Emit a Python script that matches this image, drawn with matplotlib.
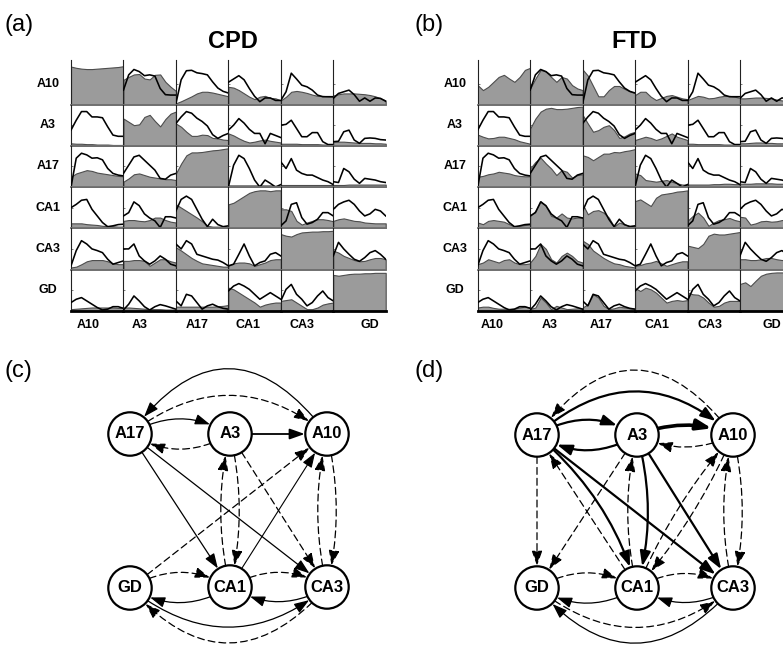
import matplotlib
matplotlib.use('Agg')
import matplotlib.pyplot as plt
from matplotlib.patches import Circle, FancyArrowPatch, ArrowStyle

plt.rcParams['font.family'] = ['Liberation Sans', 'DejaVu Sans']

# ---------------- data ----------------
regions = ['A10', 'A3', 'A17', 'CA1', 'CA3', 'GD']
t = [0.0, 0.1, 0.2, 0.3, 0.4, 0.5, 0.6, 0.7, 0.8, 0.9, 1.0]

# black curves (same in both panels), per row, columns in `regions` order
black_A10 = [None,
             [0.35, 0.72, 0.85, 0.8, 0.7, 0.72, 0.69, 0.39, 0.24, 0.23, 0.23],
             [0.02, 0.6, 0.82, 0.83, 0.77, 0.75, 0.72, 0.55, 0.4, 0.32, 0.28],
             [0.54, 0.62, 0.7, 0.6, 0.39, 0.2, 0.07, 0.16, 0.16, 0.1, 0.1],
             [0.1, 0.31, 0.76, 0.62, 0.47, 0.43, 0.35, 0.23, 0.19, 0.19, 0.19],
             [0.15, 0.27, 0.31, 0.35, 0.24, 0.08, 0.16, 0.08, 0.16, 0.15, 0.08]]
black_A3 = [[0.38, 0.62, 0.83, 0.83, 0.7, 0.7, 0.68, 0.46, 0.26, 0.23, 0.23],
            None,
            [0.54, 0.7, 0.83, 0.79, 0.67, 0.59, 0.48, 0.27, 0.18, 0.25, 0.3],
            [0.38, 0.5, 0.66, 0.55, 0.4, 0.3, 0.3, 0.05, 0.3, 0.25, 0.2],
            [0.5, 0.52, 0.62, 0.42, 0.22, 0.22, 0.32, 0.32, 0.1, 0.03, 0.03],
            [0.1, 0.11, 0.34, 0.38, 0.14, 0.06, 0.18, 0.19, 0.18, 0.15, 0.14]]
black_A17 = [[0.0, 0.7, 0.82, 0.78, 0.7, 0.71, 0.66, 0.45, 0.33, 0.29, 0.27],
             [0.33, 0.53, 0.73, 0.77, 0.65, 0.53, 0.41, 0.21, 0.19, 0.29, 0.33],
             None,
             [0.0, 0.53, 0.77, 0.69, 0.45, 0.17, 0.0, 0.17, 0.09, 0.0, 0.06],
             [0.61, 0.45, 0.69, 0.41, 0.33, 0.29, 0.29, 0.23, 0.17, 0.13, 0.06],
             [0.13, 0.11, 0.45, 0.37, 0.19, 0.09, 0.21, 0.19, 0.17, 0.13, 0.11]]
black_CA1 = [[0.5, 0.58, 0.68, 0.7, 0.46, 0.3, 0.14, 0.04, 0.06, 0.09, 0.1],
             [0.3, 0.38, 0.64, 0.55, 0.35, 0.25, 0.18, 0.02, 0.28, 0.28, 0.25],
             [0.42, 0.7, 0.78, 0.7, 0.46, 0.22, 0.04, 0.22, 0.09, 0.04, 0.06],
             None,
             [0.06, 0.18, 0.58, 0.62, 0.26, 0.1, 0.14, 0.22, 0.38, 0.38, 0.3],
             [0.46, 0.58, 0.64, 0.68, 0.58, 0.42, 0.3, 0.35, 0.46, 0.42, 0.3]]
black_CA3 = [[0.09, 0.46, 0.7, 0.62, 0.5, 0.46, 0.41, 0.25, 0.13, 0.17, 0.21],
             [0.5, 0.5, 0.62, 0.33, 0.21, 0.13, 0.21, 0.33, 0.25, 0.13, 0.09],
             [0.62, 0.5, 0.7, 0.62, 0.37, 0.33, 0.29, 0.25, 0.23, 0.17, 0.09],
             [0.09, 0.13, 0.37, 0.62, 0.33, 0.09, 0.17, 0.21, 0.37, 0.41, 0.33],
             None,
             [0.33, 0.66, 0.5, 0.37, 0.25, 0.2, 0.29, 0.41, 0.46, 0.37, 0.25]]
black_GD = [[0.2, 0.28, 0.32, 0.24, 0.16, 0.08, 0.02, 0.04, 0.1, 0.1, 0.06],
            [0.02, 0.16, 0.36, 0.24, 0.1, 0.02, 0.1, 0.15, 0.12, 0.08, 0.04],
            [0.24, 0.12, 0.4, 0.36, 0.2, 0.04, 0.12, 0.16, 0.1, 0.06, 0.04],
            [0.48, 0.6, 0.66, 0.6, 0.52, 0.4, 0.28, 0.36, 0.44, 0.36, 0.28],
            [0.24, 0.52, 0.64, 0.4, 0.28, 0.12, 0.2, 0.36, 0.48, 0.32, 0.24],
            None]

# grey curves, CPD panel
cpd_A10 = [[0.92, 0.89, 0.87, 0.86, 0.86, 0.87, 0.88, 0.89, 0.9, 0.91, 0.93],
           [0.6, 0.67, 0.73, 0.74, 0.63, 0.61, 0.72, 0.73, 0.55, 0.43, 0.33],
           [0.03, 0.08, 0.14, 0.2, 0.27, 0.31, 0.31, 0.29, 0.26, 0.23, 0.2],
           [0.43, 0.41, 0.35, 0.27, 0.19, 0.13, 0.19, 0.21, 0.16, 0.15, 0.1],
           [0.1, 0.19, 0.31, 0.33, 0.31, 0.28, 0.24, 0.21, 0.21, 0.2, 0.19],
           [0.22, 0.25, 0.27, 0.27, 0.27, 0.26, 0.25, 0.23, 0.2, 0.15, 0.1]]
cpd_A3 = [[0.06, 0.05, 0.05, 0.04, 0.04, 0.03, 0.03, 0.03, 0.02, 0.02, 0.02],
          [0.66, 0.58, 0.5, 0.52, 0.7, 0.75, 0.6, 0.47, 0.65, 0.78, 0.83],
          [0.54, 0.46, 0.34, 0.24, 0.24, 0.27, 0.26, 0.19, 0.18, 0.15, 0.14],
          [0.3, 0.25, 0.18, 0.12, 0.08, 0.1, 0.13, 0.15, 0.12, 0.1, 0.08],
          [0.05, 0.05, 0.05, 0.05, 0.04, 0.04, 0.04, 0.04, 0.03, 0.03, 0.03],
          [0.1, 0.1, 0.1, 0.09, 0.08, 0.07, 0.07, 0.07, 0.06, 0.06, 0.05]]
cpd_A17 = [[0.25, 0.33, 0.37, 0.41, 0.39, 0.35, 0.33, 0.31, 0.29, 0.27, 0.26],
           [0.13, 0.21, 0.31, 0.33, 0.29, 0.25, 0.23, 0.21, 0.19, 0.19, 0.17],
           [0.33, 0.57, 0.77, 0.84, 0.84, 0.85, 0.87, 0.89, 0.9, 0.92, 0.94],
           [0.04, 0.04, 0.04, 0.04, 0.04, 0.04, 0.04, 0.04, 0.04, 0.03, 0.03],
           [0.04, 0.04, 0.04, 0.04, 0.04, 0.04, 0.04, 0.04, 0.04, 0.04, 0.04],
           [0.05, 0.05, 0.05, 0.06, 0.06, 0.06, 0.06, 0.06, 0.06, 0.06, 0.06]]
cpd_CA1 = [[0.12, 0.12, 0.12, 0.1, 0.09, 0.08, 0.06, 0.05, 0.05, 0.04, 0.04],
           [0.18, 0.2, 0.2, 0.18, 0.17, 0.2, 0.26, 0.26, 0.2, 0.16, 0.14],
           [0.58, 0.5, 0.42, 0.34, 0.26, 0.17, 0.06, 0.04, 0.04, 0.04, 0.04],
           [0.58, 0.62, 0.7, 0.78, 0.86, 0.9, 0.92, 0.92, 0.9, 0.92, 0.92],
           [0.46, 0.46, 0.42, 0.18, 0.09, 0.14, 0.18, 0.22, 0.22, 0.2, 0.17],
           [0.18, 0.22, 0.24, 0.21, 0.18, 0.17, 0.14, 0.13, 0.12, 0.12, 0.12]]
cpd_CA3 = [[0.05, 0.07, 0.13, 0.2, 0.23, 0.23, 0.23, 0.2, 0.15, 0.13, 0.13],
           [0.21, 0.21, 0.23, 0.23, 0.21, 0.09, 0.17, 0.25, 0.25, 0.2, 0.17],
           [0.54, 0.46, 0.37, 0.28, 0.21, 0.15, 0.13, 0.11, 0.09, 0.07, 0.07],
           [0.09, 0.15, 0.17, 0.17, 0.15, 0.09, 0.13, 0.17, 0.23, 0.25, 0.25],
           [0.86, 0.82, 0.8, 0.86, 0.9, 0.91, 0.92, 0.92, 0.93, 0.93, 0.94],
           [0.46, 0.41, 0.33, 0.28, 0.23, 0.2, 0.21, 0.25, 0.28, 0.28, 0.25]]
cpd_GD = [[0.04, 0.05, 0.06, 0.07, 0.08, 0.08, 0.08, 0.08, 0.08, 0.07, 0.07],
          [0.08, 0.08, 0.07, 0.06, 0.05, 0.04, 0.04, 0.04, 0.03, 0.03, 0.03],
          [0.1, 0.1, 0.1, 0.1, 0.1, 0.1, 0.1, 0.1, 0.11, 0.12, 0.14],
          [0.56, 0.52, 0.44, 0.36, 0.28, 0.2, 0.1, 0.15, 0.18, 0.2, 0.2],
          [0.24, 0.26, 0.28, 0.2, 0.12, 0.04, 0.04, 0.08, 0.15, 0.18, 0.2],
          [0.87, 0.85, 0.87, 0.89, 0.9, 0.9, 0.91, 0.91, 0.92, 0.92, 0.92]]

# grey curves, FTD panel
ftd_A10 = [[0.47, 0.35, 0.43, 0.55, 0.67, 0.72, 0.63, 0.55, 0.67, 0.84, 0.89],
           [0.39, 0.63, 0.84, 0.8, 0.67, 0.55, 0.67, 0.63, 0.47, 0.39, 0.35],
           [0.85, 0.7, 0.45, 0.2, 0.2, 0.35, 0.45, 0.45, 0.38, 0.32, 0.28],
           [0.23, 0.31, 0.31, 0.19, 0.11, 0.16, 0.21, 0.23, 0.19, 0.15, 0.13],
           [0.11, 0.16, 0.21, 0.19, 0.15, 0.16, 0.19, 0.21, 0.21, 0.19, 0.16],
           [0.15, 0.15, 0.16, 0.17, 0.17, 0.16, 0.15, 0.12, 0.1, 0.1, 0.1]]
ftd_A3 = [[0.27, 0.22, 0.18, 0.19, 0.22, 0.22, 0.19, 0.16, 0.11, 0.08, 0.05],
          [0.42, 0.66, 0.83, 0.9, 0.92, 0.89, 0.89, 0.9, 0.92, 0.94, 0.95],
          [0.75, 0.54, 0.34, 0.38, 0.46, 0.5, 0.38, 0.19, 0.23, 0.3, 0.34],
          [0.14, 0.18, 0.22, 0.19, 0.14, 0.18, 0.24, 0.3, 0.22, 0.18, 0.14],
          [0.05, 0.05, 0.04, 0.04, 0.04, 0.04, 0.04, 0.03, 0.03, 0.03, 0.03],
          [0.06, 0.06, 0.07, 0.08, 0.08, 0.07, 0.07, 0.06, 0.06, 0.06, 0.06]]
ftd_A17 = [[0.25, 0.27, 0.31, 0.33, 0.37, 0.35, 0.33, 0.29, 0.27, 0.26, 0.26],
           [0.45, 0.61, 0.71, 0.57, 0.45, 0.29, 0.41, 0.37, 0.23, 0.29, 0.31],
           [0.77, 0.73, 0.65, 0.73, 0.81, 0.81, 0.85, 0.84, 0.87, 0.89, 0.92],
           [0.33, 0.29, 0.17, 0.15, 0.13, 0.15, 0.17, 0.13, 0.09, 0.06, 0.06],
           [0.06, 0.06, 0.06, 0.06, 0.06, 0.07, 0.07, 0.08, 0.08, 0.07, 0.07],
           [0.08, 0.08, 0.08, 0.09, 0.09, 0.09, 0.09, 0.08, 0.08, 0.08, 0.08]]
ftd_CA1 = [[0.14, 0.1, 0.18, 0.2, 0.18, 0.16, 0.1, 0.04, 0.06, 0.08, 0.09],
           [0.3, 0.42, 0.66, 0.54, 0.3, 0.26, 0.36, 0.26, 0.24, 0.26, 0.26],
           [0.58, 0.34, 0.42, 0.44, 0.38, 0.26, 0.04, 0.14, 0.09, 0.06, 0.06],
           [0.66, 0.7, 0.62, 0.54, 0.74, 0.82, 0.84, 0.86, 0.89, 0.9, 0.92],
           [0.18, 0.3, 0.38, 0.26, 0.06, 0.14, 0.2, 0.22, 0.25, 0.2, 0.17],
           [0.28, 0.26, 0.09, 0.12, 0.17, 0.18, 0.16, 0.17, 0.2, 0.2, 0.2]]
ftd_CA3 = [[0.13, 0.17, 0.25, 0.21, 0.17, 0.23, 0.25, 0.17, 0.13, 0.13, 0.15],
           [0.17, 0.33, 0.62, 0.5, 0.25, 0.17, 0.33, 0.41, 0.33, 0.21, 0.17],
           [0.7, 0.62, 0.46, 0.37, 0.28, 0.21, 0.15, 0.13, 0.09, 0.07, 0.05],
           [0.09, 0.11, 0.15, 0.17, 0.21, 0.15, 0.09, 0.13, 0.17, 0.2, 0.2],
           [0.58, 0.55, 0.52, 0.62, 0.82, 0.87, 0.85, 0.85, 0.87, 0.89, 0.91],
           [0.25, 0.25, 0.23, 0.23, 0.25, 0.28, 0.28, 0.25, 0.23, 0.25, 0.28]]
ftd_GD = [[0.08, 0.1, 0.1, 0.07, 0.05, 0.05, 0.05, 0.05, 0.08, 0.1, 0.08],
          [0.04, 0.08, 0.32, 0.2, 0.04, 0.12, 0.08, 0.04, 0.05, 0.06, 0.06],
          [0.08, 0.16, 0.4, 0.32, 0.12, 0.04, 0.06, 0.1, 0.08, 0.06, 0.05],
          [0.55, 0.48, 0.56, 0.52, 0.44, 0.32, 0.2, 0.24, 0.26, 0.24, 0.26],
          [0.44, 0.4, 0.39, 0.32, 0.2, 0.1, 0.12, 0.2, 0.24, 0.24, 0.24],
          [0.65, 0.69, 0.6, 0.73, 0.85, 0.9, 0.92, 0.93, 0.93, 0.92, 0.91]]

black_rows = [black_A10, black_A3, black_A17, black_CA1, black_CA3, black_GD]
cpd_rows = [cpd_A10, cpd_A3, cpd_A17, cpd_CA1, cpd_CA3, cpd_GD]
ftd_rows = [ftd_A10, ftd_A3, ftd_A17, ftd_CA1, ftd_CA3, ftd_GD]

# graph edges: (source, target, line style, width, curvature)
edges_c = [('A10', 'A17', 'solid', 0.9, 0.66), ('A17', 'A10', 'dashed', 0.9, -0.39),
           ('A17', 'A3', 'solid', 0.9, -0.3), ('A3', 'A17', 'dashed', 0.9, -0.3),
           ('A3', 'A10', 'solid', 1.3, 0.0),
           ('A17', 'CA1', 'solid', 0.9, 0.0), ('A17', 'CA3', 'solid', 0.9, 0.0),
           ('CA1', 'A3', 'dashed', 0.9, -0.12), ('A3', 'CA1', 'dashed', 0.9, -0.12),
           ('A3', 'CA3', 'dashed', 0.9, 0.0), ('GD', 'A10', 'dashed', 0.9, 0.0),
           ('CA1', 'A10', 'solid', 0.8, 0.0),
           ('CA3', 'A10', 'dashed', 0.9, -0.12), ('A10', 'CA3', 'dashed', 0.9, -0.12),
           ('GD', 'CA1', 'dashed', 0.9, -0.3), ('CA1', 'GD', 'solid', 0.9, -0.3),
           ('CA1', 'CA3', 'dashed', 0.9, -0.3), ('CA3', 'CA1', 'solid', 0.9, -0.3),
           ('GD', 'CA3', 'solid', 0.9, 0.4), ('CA3', 'GD', 'dashed', 0.9, -0.56)]
edges_d = [('A10', 'A17', 'dashed', 0.9, 0.66), ('A17', 'A10', 'solid', 1.6, -0.44),
           ('A17', 'A3', 'solid', 1.6, -0.3), ('A3', 'A17', 'solid', 1.6, -0.3),
           ('A3', 'A10', 'solid', 2.6, -0.2), ('A10', 'A3', 'dashed', 0.9, -0.25),
           ('A17', 'GD', 'dashed', 0.9, 0.0), ('CA1', 'A17', 'dashed', 0.9, 0.0),
           ('A17', 'CA1', 'solid', 1.6, -0.15), ('A17', 'CA3', 'solid', 1.6, 0.0),
           ('A3', 'GD', 'dashed', 0.9, 0.0),
           ('CA1', 'A3', 'dashed', 0.9, -0.12), ('A3', 'CA1', 'solid', 1.6, -0.14),
           ('A3', 'CA3', 'solid', 1.6, 0.0),
           ('CA1', 'A10', 'dashed', 0.9, -0.08), ('A10', 'CA1', 'dashed', 0.9, -0.08),
           ('CA3', 'A10', 'dashed', 0.9, -0.12), ('A10', 'CA3', 'dashed', 0.9, -0.12),
           ('GD', 'CA1', 'dashed', 0.9, -0.3), ('CA1', 'GD', 'solid', 0.9, -0.3),
           ('CA1', 'CA3', 'dashed', 0.9, -0.3), ('CA3', 'CA1', 'solid', 0.9, -0.3),
           ('GD', 'CA3', 'dashed', 0.9, 0.4), ('CA3', 'GD', 'solid', 0.9, -0.56)]

# ---------------- layout (pixels) ----------------
W, H = 783, 648
fig = plt.figure(figsize=(W / 100, H / 100), dpi=100)

GRID_TOP = 63.3
ROW_H = 41.25
COL_W = 52.45
grids = [dict(left=71.0, rows=cpd_rows, title='CPD', title_x=233, tag='(a)', tag_x=4,
              rowlab_x=48, collab_x=[88, 140, 197, 248, 302, 370]),
         dict(left=477.7, rows=ftd_rows, title='FTD', title_x=634, tag='(b)', tag_x=415,
              rowlab_x=455, collab_x=[492, 550, 601, 657, 710, 772])]

GREY = '#9b9b9b'
GREY_EDGE = '#4d4d4d'

for g in grids:
    for i in range(6):
        for j in range(6):
            x0 = g['left'] + j * COL_W
            y0 = GRID_TOP + i * ROW_H
            ax = fig.add_axes([x0 / W, 1 - (y0 + ROW_H) / H, COL_W / W, ROW_H / H])
            ax.set_xlim(0, 1)
            ax.set_ylim(0, 1)
            ax.patch.set_alpha(0)
            gy = g['rows'][i][j]
            ax.fill_between(t, 0, gy, facecolor=GREY, edgecolor=GREY_EDGE, lw=0.8, zorder=2)
            by = black_rows[i][j]
            if by is not None:
                ax.plot(t, by, color='black', lw=1.15, zorder=3, solid_joinstyle='round')
            for s in ('top', 'right'):
                ax.spines[s].set_visible(False)
            ax.spines['left'].set_color('#222222')
            ax.spines['left'].set_linewidth(0.8)
            if i == 0:
                ax.spines['left'].set_bounds(0, 1.07)
            if i == 5:
                ax.spines['bottom'].set_color('black')
                ax.spines['bottom'].set_linewidth(2.0)
            else:
                ax.spines['bottom'].set_color('#707070')
                ax.spines['bottom'].set_linewidth(1.3)
            ax.spines['bottom'].set_zorder(4)
            ax.set_xticks([])
            ax.set_yticks([0.5])
            ax.tick_params(axis='y', direction='in', length=1.5, width=0.5,
                           color='#444444', labelleft=False)

# overlay axes in pixel coordinates for text and graphs
ov = fig.add_axes([0, 0, 1, 1])
ov.set_xlim(0, W)
ov.set_ylim(H, 0)
ov.axis('off')
ov.patch.set_alpha(0)

for g in grids:
    ov.text(g['tag_x'], 25, g['tag'], fontsize=17, ha='left', va='center')
    ov.text(g['title_x'], 42, g['title'], fontsize=17, fontweight='bold', ha='center', va='center')
    for i, r in enumerate(regions):
        ov.text(g['rowlab_x'], GRID_TOP + (i + 0.5) * ROW_H, r, fontsize=9,
                fontweight='bold', ha='center', va='center')
        ov.text(g['collab_x'][i], 325, r, fontsize=9, fontweight='bold',
                ha='center', va='center')

# graphs
R = 21.7
graphs = [dict(tag='(c)', tag_x=4, edges=edges_c,
               pos={'A17': (130, 434), 'A3': (230, 434), 'A10': (327, 434),
                    'GD': (130, 588), 'CA1': (230, 587), 'CA3': (327, 587)}),
          dict(tag='(d)', tag_x=415, edges=edges_d,
               pos={'A17': (537, 435), 'A3': (637, 435), 'A10': (733, 435),
                    'GD': (537, 588), 'CA1': (637, 588), 'CA3': (733, 588)})]

head = ArrowStyle('-|>', head_length=9.0, head_width=3.2)
for gr in graphs:
    ov.text(gr['tag_x'], 371, gr['tag'], fontsize=17, ha='left', va='center')
    circles = {}
    for name, (cx, cy) in gr['pos'].items():
        c = Circle((cx, cy), R, facecolor='white', edgecolor='black', lw=1.6, zorder=5)
        ov.add_patch(c)
        circles[name] = c
        ov.text(cx, cy, name, fontsize=12, fontweight='bold', ha='center', va='center', zorder=6)
    for src, dst, ls, lw, rad in gr['edges']:
        style = '-' if ls == 'solid' else (0, (5.5, 3.2))
        arr = FancyArrowPatch(gr['pos'][src], gr['pos'][dst], patchA=circles[src], patchB=circles[dst],
                              shrinkA=0.5, shrinkB=1.0, connectionstyle=f'arc3,rad={rad}',
                              arrowstyle=head, mutation_scale=1, lw=lw, linestyle=style,
                              color='black', zorder=4)
        ov.add_patch(arr)

fig.savefig('out.png', dpi=100)
